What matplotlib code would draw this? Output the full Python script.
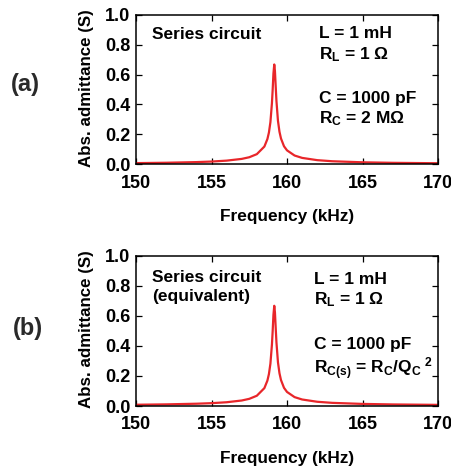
import matplotlib
matplotlib.use("Agg")
import matplotlib.pyplot as plt

plt.rcParams["font.family"] = ["Liberation Sans", "DejaVu Sans"]
plt.rcParams["font.weight"] = "bold"
plt.rcParams["mathtext.fontset"] = "custom"
plt.rcParams["mathtext.rm"] = "Liberation Sans:bold"
plt.rcParams["mathtext.it"] = "Liberation Sans:bold"
plt.rcParams["mathtext.bf"] = "Liberation Sans:bold"

# Frequency (kHz) and absolute admittance (S) of the series RLC circuit
freq_khz = [150.0, 152.0, 154.0, 155.0, 156.0, 157.0, 157.5, 158.0, 158.5,
            158.7, 158.8, 158.9, 159.0, 159.05, 159.1, 159.155, 159.2, 159.25,
            159.3, 159.4, 159.5, 159.6, 159.8, 160.0, 160.5, 161.0, 162.0,
            163.0, 165.0, 167.0, 170.0]
admittance_a = [0.0084, 0.0109, 0.0152, 0.0189, 0.0250, 0.0366, 0.0477, 0.0683,
                0.119, 0.169, 0.212, 0.282, 0.408, 0.500, 0.606, 0.667, 0.623,
                0.521, 0.423, 0.291, 0.218, 0.173, 0.121, 0.0935, 0.0592,
                0.0433, 0.0282, 0.0209, 0.0139, 0.0104, 0.0076]
admittance_b = list(admittance_a)

x_ticks = [150, 155, 160, 165, 170]
y_ticks = [0.0, 0.2, 0.4, 0.6, 0.8, 1.0]

panels = [
    dict(series=admittance_a, tag="(a)", tag_pos=(-0.368, 0.531),
         title_lines=["Series circuit"], title_y=[0.834],
         params=["L = 1 mH", "R$_L$ = 1 Ω", "C = 1000 pF", "R$_C$ = 2 MΩ"],
         params_x=0.606, params_y=[0.841, 0.701, 0.408, 0.275]),
    dict(series=admittance_b, tag="(b)", tag_pos=(-0.358, 0.519),
         title_lines=["Series circuit", "(equivalent)"], title_y=[0.826, 0.697],
         params=["L = 1 mH", "R$_L$ = 1 Ω", "C = 1000 pF",
                 "R$_{C(s)}$ = R$_C$/Q$_C$$^{\\ 2}$"],
         params_x=0.589, params_y=[0.813, 0.678, 0.378, 0.212]),
]

fig = plt.figure(figsize=(4.52, 4.71), dpi=100)
axes_rects = [[0.301, 0.651, 0.668, 0.318], [0.301, 0.138, 0.668, 0.319]]

for rect, p in zip(axes_rects, panels):
    ax = fig.add_axes(rect)
    ax.plot(freq_khz, p["series"], color="#e8262a", lw=1.6)
    ax.set_xlim(150, 170)
    ax.set_ylim(0, 1.0)
    ax.set_xticks(x_ticks)
    ax.set_yticks(y_ticks)
    ax.set_yticklabels([f"{v:.1f}" for v in y_ticks])
    ax.tick_params(direction="in", top=True, right=True, length=4.5, width=0.9,
                   labelsize=13)
    ax.tick_params(axis="x", pad=7.5)
    ax.tick_params(axis="y", pad=4)
    for lab in ax.get_xticklabels() + ax.get_yticklabels():
        lab.set_fontweight("bold")
    for s in ax.spines.values():
        s.set_linewidth(1.1)
    ax.set_xlabel("Frequency (kHz)", fontsize=12.4, fontweight="bold")
    ax.xaxis.set_label_coords(0.5, -0.30)
    ax.set_ylabel("Abs. admittance (S)", fontsize=12.2, fontweight="bold")
    ax.yaxis.set_label_coords(-0.14, 0.51)

    for txt, y in zip(p["title_lines"], p["title_y"]):
        ax.text(0.053, y, txt, transform=ax.transAxes, fontsize=12.5,
                fontweight="bold", va="baseline", ha="left")
    for txt, y in zip(p["params"], p["params_y"]):
        ax.text(p["params_x"], y, txt, transform=ax.transAxes, fontsize=12.5,
                fontweight="bold", va="baseline", ha="left")
    ax.text(p["tag_pos"][0], p["tag_pos"][1], p["tag"], transform=ax.transAxes,
            fontsize=17, fontweight="bold", va="center", ha="center",
            color="#2a2a2a")

fig.savefig("out.png", dpi=100)
